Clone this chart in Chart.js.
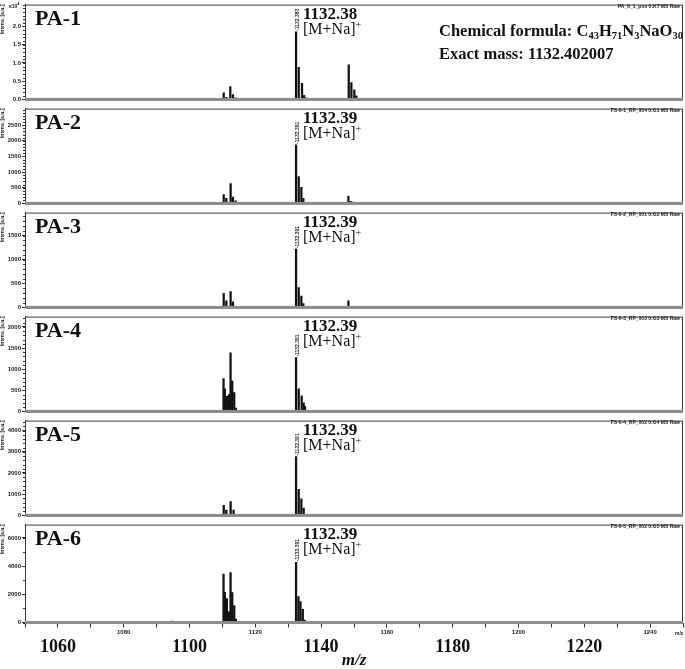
<!DOCTYPE html>
<html>
<head>
<meta charset="utf-8">
<script src="https://cdn.jsdelivr.net/npm/chart.js@4"></script>
<style>
  body { margin: 0; background: #fff; }
  #wrap { position: relative; width: 685px; height: 669px; overflow: hidden; background: #fff; }
  canvas { position: absolute; left: 0; }
  .lbl { position: absolute; font-family: "Liberation Serif", "Times New Roman", serif; color: #111; white-space: nowrap; line-height: 1; }
  .pa { font-size: 22px; font-weight: bold; }
  .mass { font-size: 17px; font-weight: bold; }
  .ion { font-size: 16px; }
  .ion sup { font-size: 10px; vertical-align: 6px; line-height: 0; }
  .formula { font-size: 16.5px; font-weight: bold; }
  .formula sub { font-size: 10.5px; vertical-align: -3px; line-height: 0; }
  .raw { position: absolute; font-family: "Liberation Sans", Arial, sans-serif; font-size: 5px; font-weight: bold; color: #222; white-space: nowrap; }
</style>
</head>
<body>
<div id="wrap"></div>
<script>
// x axis (m/z)
const mzMin = 1050;
const mzMax = 1250;
const smallTickLabels = [1080, 1120, 1160, 1200, 1240];
const bigTickLabels = [1060, 1100, 1140, 1180, 1220];

// panel texts
const panelNames = ['PA-1', 'PA-2', 'PA-3', 'PA-4', 'PA-5', 'PA-6'];
const rawFiles = ['PA_6_1_pos 0:K7 MS Raw', 'FS-6-1_RP_004 0:G1 MS Raw', 'FS-6-2_RP_001 0:G2 MS Raw',
                  'FS-6-3_RP_003 0:G3 MS Raw', 'FS-6-4_RP_002 0:G4 MS Raw', 'FS-6-5_RP_002 0:G5 MS Raw'];
const peakMass = ['1132.38', '1132.39', '1132.39', '1132.39', '1132.39', '1132.39'];
const peakLabel = ['1132.383', '1132.391', '1132.391', '1132.391', '1132.391', '1132.391'];

// y axes (intensity, a.u.)
const yMax = [26000, 3030, 1980, 2244, 4470, 6950];
const yMajor = [5000, 500, 500, 500, 1000, 2000];
const yMinor = [1000, 100, 100, 100, 200, 1000];

// peaks
const pa1Mz  = [1110.4, 1111.2, 1112.4, 1113.2, 1114.0, 1132.38, 1133.2, 1134.2, 1134.8, 1135.4, 1148.4, 1149.2, 1150.1, 1150.7];
const pa1Int = [1800, 600, 3500, 1300, 400, 18500, 8800, 4400, 1100, 400, 9500, 4600, 2600, 1000];
const pa2Mz  = [1110.4, 1111.2, 1112.5, 1113.2, 1114.0, 1132.39, 1133.2, 1134.0, 1134.6, 1148.3, 1149.0, 1149.6];
const pa2Int = [280, 160, 630, 200, 80, 1870, 860, 510, 160, 230, 70, 40];
const pa3Mz  = [1110.4, 1111.2, 1112.5, 1113.2, 1132.39, 1133.2, 1134.0, 1134.6, 1148.3];
const pa3Int = [294, 137, 333, 118, 1216, 412, 235, 80, 137];
const pa4Mz  = [1110.35, 1110.74, 1111.35, 1111.96, 1112.48, 1112.99, 1113.6, 1114.1, 1132.39, 1133.2, 1134.1, 1134.7, 1135.1];
const pa4Int = [778, 533, 356, 400, 1384, 718, 444, 80, 1273, 533, 371, 200, 118];
const pa5Mz  = [1110.4, 1111.2, 1112.5, 1113.4, 1132.39, 1133.2, 1134.0, 1134.7];
const pa5Int = [473, 250, 650, 250, 2774, 1226, 783, 340];
const pa6Mz  = [1094.8, 1110.35, 1110.74, 1111.35, 1111.96, 1112.48, 1112.99, 1113.6, 1114.1, 1132.39, 1133.12, 1133.73, 1134.43, 1135.03];
const pa6Int = [100, 3440, 2150, 1700, 750, 3550, 2116, 1200, 250, 4280, 1843, 1480, 935, 180];

const panelMz = [pa1Mz, pa2Mz, pa3Mz, pa4Mz, pa5Mz, pa6Mz];
const panelInt = [pa1Int, pa2Int, pa3Int, pa4Int, pa5Int, pa6Int];

const wrap = document.getElementById('wrap');
const panelStep = 104;
const tinyFont = { family: 'Liberation Sans', size: 6, weight: 'bold' };

// frame, baseline, minor ticks and the small rotated peak label
const spectrumDecor = {
  id: 'spectrumDecor',
  afterDraw(chart, args, opts) {
    const { ctx, chartArea: a, scales } = chart;
    const y = scales.y, x = scales.x;
    ctx.save();
    ctx.strokeStyle = '#3a3a3a';
    ctx.lineWidth = 1;
    ctx.strokeRect(a.left + 0.5, a.top + 0.5, a.right - a.left - 1, a.bottom - a.top);
    ctx.fillStyle = '#8c8c8c';
    ctx.fillRect(a.left, a.bottom - 1.5, a.right - a.left, 3);
    // minor ticks
    ctx.strokeStyle = '#333';
    ctx.beginPath();
    for (let v = 0; v <= y.max; v += opts.minor) {
      const py = Math.round(y.getPixelForValue(v)) + 0.5;
      ctx.moveTo(a.left - 2, py);
      ctx.lineTo(a.left, py);
    }
    ctx.stroke();
    // rotated label over the [M+Na]+ peak
    const k = opts.mz.indexOf(parseFloat(opts.peak));
    if (k >= 0) {
      const px = x.getPixelForValue(opts.mz[k]);
      const py = y.getPixelForValue(opts.int[k]);
      ctx.translate(px + 2, py - 1);
      ctx.rotate(-Math.PI / 2);
      ctx.fillStyle = '#222';
      ctx.font = 'bold 5px "Liberation Sans"';
      ctx.textBaseline = 'middle';
      ctx.fillText('-' + opts.label, 0, 0);
    }
    ctx.restore();
  }
};

panelNames.forEach((name, i) => {
  const last = i === panelNames.length - 1;
  const canvas = document.createElement('canvas');
  const h = last ? 669 - i * panelStep : panelStep;
  canvas.width = 685; canvas.height = h;
  canvas.style.top = (i * panelStep) + 'px';
  canvas.style.width = '685px'; canvas.style.height = h + 'px';
  wrap.appendChild(canvas);

  const mz = panelMz[i], inten = panelInt[i];
  const scales = {
    x: {
      type: 'linear', min: mzMin, max: mzMax, offset: false, display: last,
      grid: { drawOnChartArea: false, offset: false, tickLength: 5, color: '#333' },
      border: { display: false },
      ticks: {
        stepSize: 10, autoSkip: false, maxRotation: 0, padding: 1, color: '#222', font: tinyFont,
        callback: v => smallTickLabels.includes(v) ? String(v) : ''
      },
      afterFit: s => { s.height = last ? 14 : 0; }
    },
    y: {
      min: 0, max: yMax[i],
      grid: { drawOnChartArea: false, tickLength: 3, color: '#333' },
      border: { color: '#3a3a3a' },
      afterBuildTicks: s => {
        const t = [];
        for (let v = 0; v <= s.max * 0.95; v += yMajor[i]) t.push({ value: v });
        s.ticks = t;
      },
      ticks: {
        padding: 1, color: '#222', font: tinyFont,
        callback: v => i === 0 ? (v / 10000).toFixed(1) : String(v)
      },
      title: { display: true, text: 'Intens. [a.u.]', align: 'end', padding: 0, color: '#222',
               font: { family: 'Liberation Sans', size: 5, weight: 'bold' } },
      afterFit: s => { s.width = 25; }
    }
  };
  if (last) {
    scales.x2 = {
      type: 'linear', position: 'bottom', min: mzMin, max: mzMax, offset: false,
      grid: { display: false, drawTicks: false }, border: { display: false },
      afterBuildTicks: s => { s.ticks = bigTickLabels.map(v => ({ value: v })); },
      ticks: { autoSkip: false, maxRotation: 0, padding: 0, color: '#111',
               font: { family: 'Liberation Serif', size: 18, weight: 'bold' },
               callback: v => String(v) },
      title: { display: true, text: 'm/z', padding: { top: 0, bottom: 0 }, color: '#111',
               font: { family: 'Liberation Serif', size: 17, weight: 'bold', style: 'italic', lineHeight: 1 } },
      afterFit: s => { s.height = 32.5; }
    };
  }

  new Chart(canvas, {
    type: 'bar',
    data: {
      datasets: [{
        data: mz.map((m, k) => ({ x: m, y: inten[k] })),
        backgroundColor: '#111',
        borderWidth: 0,
        barThickness: 1.6
      }]
    },
    options: {
      responsive: false,
      animation: false,
      devicePixelRatio: 1,
      layout: { padding: { top: 1, right: 2, left: 0, bottom: last ? 0 : 2 } },
      plugins: {
        legend: { display: false },
        tooltip: { enabled: false },
        spectrumDecor: { minor: yMinor[i], mz: mz, int: inten, peak: peakMass[i], label: peakLabel[i] }
      },
      scales: scales
    },
    plugins: [spectrumDecor]
  });

  // overlay texts
  const top = i * panelStep;
  const add = (cls, html, left, t) => {
    const d = document.createElement('div');
    d.className = cls; d.innerHTML = html;
    d.style.left = left + 'px'; d.style.top = (top + t) + 'px';
    wrap.appendChild(d);
    return d;
  };
  add('lbl pa', name, 35, 7);
  add('lbl mass', peakMass[i], 303, 5);
  add('lbl ion', '[M+Na]<sup>+</sup>', 303, 21);
  const r = add('raw', rawFiles[i], 0, 3);
  r.style.left = 'auto'; r.style.right = '5px';
});

// header texts of the first panel
const hdr = (cls, html, left, t) => {
  const d = document.createElement('div');
  d.className = cls; d.innerHTML = html;
  d.style.left = left + 'px'; d.style.top = t + 'px';
  wrap.appendChild(d);
};
hdr('lbl formula', 'Chemical formula: C<sub>43</sub>H<sub>71</sub>N<sub>3</sub>NaO<sub>30</sub>', 439, 23);
hdr('lbl formula', 'Exact mass: 1132.402007', 439, 46);
hdr('raw', 'x10<sup style="font-size:4px">4</sup>', 9, 1);
hdr('raw', 'm/z', 675, 630);
</script>
</body>
</html>
